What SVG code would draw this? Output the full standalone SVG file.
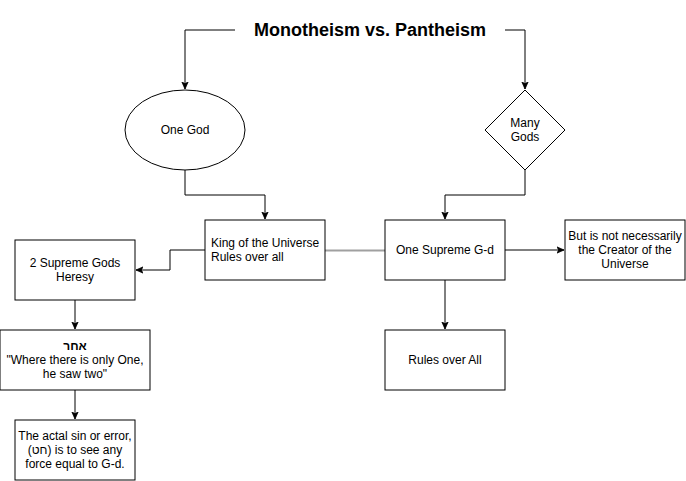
<svg xmlns="http://www.w3.org/2000/svg" width="686" height="481" viewBox="0 0 686 481">
<style>
.n{fill:#fff;stroke:#000;stroke-width:1}
.t{font-family:"Liberation Sans",Arial,"Noto Sans",sans-serif;font-size:12px;fill:#000}
.c{text-anchor:middle}
.e{fill:none;stroke:#000;stroke-width:1}
</style>
<defs>
<marker id="a" viewBox="0 0 10 10" refX="9" refY="5" markerWidth="8" markerHeight="8" markerUnits="userSpaceOnUse" orient="auto">
<path d="M0,1 L9,5 L0,9 L2.5,5 Z" fill="#000" stroke="#000"/>
</marker>
</defs>
<rect width="686" height="481" fill="#fff"/>
<g id="connectors">
<path class="e" d="M235,30 H185 V89" marker-end="url(#a)"/>
<path class="e" d="M505,30 H525 V89" marker-end="url(#a)"/>
<path class="e" d="M185,170 V195 H265 V219" marker-end="url(#a)"/>
<path class="e" d="M525,170 V195 H445 V219" marker-end="url(#a)"/>
<path d="M325,250.5 H385" fill="none" stroke="#a0a0a0" stroke-width="2"/>
<path class="e" d="M205,250 H170 V270 H136" marker-end="url(#a)"/>
<path class="e" d="M505,250 H564" marker-end="url(#a)"/>
<path class="e" d="M445,280 V329" marker-end="url(#a)"/>
<path class="e" d="M75,300 V329" marker-end="url(#a)"/>
<path class="e" d="M75,390 V419" marker-end="url(#a)"/>
</g>
<g id="title">
<text x="370" y="36" class="c" style="font-family:'Liberation Sans',Arial,sans-serif;font-size:18px;font-weight:bold">Monotheism vs. Pantheism</text>
</g>
<g id="one-god">
<ellipse class="n" cx="185" cy="130" rx="60" ry="40"/>
<text class="t c" x="185" y="134">One God</text>
</g>
<g id="many-gods">
<path class="n" d="M525,90 L565,130 L525,170 L485,130 Z"/>
<text class="t c" x="525" y="127">Many</text>
<text class="t c" x="525" y="141">Gods</text>
</g>
<g id="king">
<rect class="n" x="205" y="220" width="120" height="60"/>
<text class="t" x="211" y="247">King of the Universe</text>
<text class="t" x="211" y="261">Rules over all</text>
</g>
<g id="one-supreme">
<rect class="n" x="385" y="220" width="120" height="60"/>
<text class="t c" x="445" y="254">One Supreme G-d</text>
</g>
<g id="not-creator">
<rect class="n" x="565" y="220" width="120" height="60"/>
<text class="t c" x="625" y="240">But is not necessarily</text>
<text class="t c" x="625" y="254">the Creator of the</text>
<text class="t c" x="625" y="268">Universe</text>
</g>
<g id="two-gods">
<rect class="n" x="15" y="240" width="120" height="60"/>
<text class="t c" x="75" y="267">2 Supreme Gods</text>
<text class="t c" x="75" y="281">Heresy</text>
</g>
<g id="rules">
<rect class="n" x="385" y="330" width="120" height="60"/>
<text class="t c" x="445" y="364">Rules over All</text>
</g>
<g id="acher">
<rect class="n" x="0" y="330" width="150" height="60"/>
<text class="t c" x="75" y="350" style="font-weight:bold">אחר</text>
<text class="t c" x="75" y="364">"Where there is only One,</text>
<text class="t c" x="75" y="378">he saw two"</text>
</g>
<g id="sin">
<rect class="n" x="15" y="420" width="120" height="60"/>
<text class="t c" x="75" y="440">The actal sin or error,</text>
<text class="t c" x="75" y="454">(חט) is to see any</text>
<text class="t c" x="75" y="468">force equal to G-d.</text>
</g>
</svg>
